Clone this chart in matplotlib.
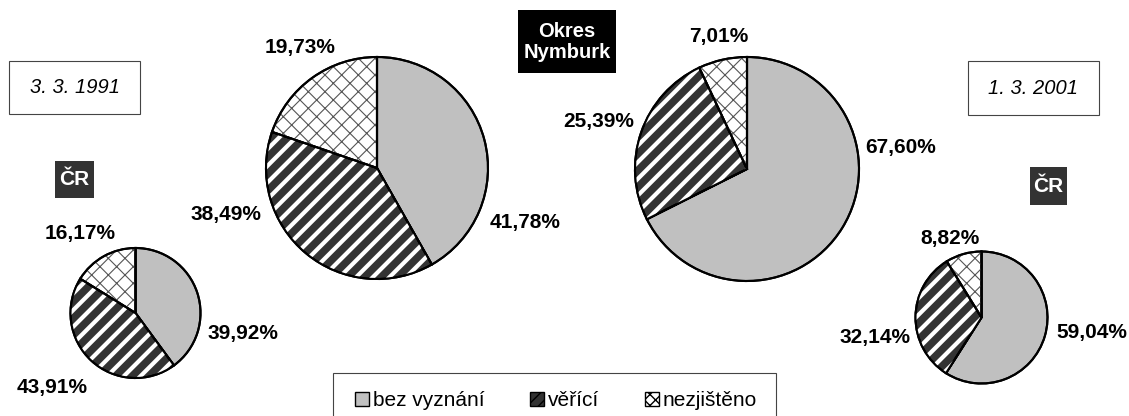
import matplotlib.pyplot as plt
from matplotlib.patches import Patch, Rectangle, Wedge

plt.rcParams["font.family"] = ["Liberation Sans", "DejaVu Sans"]

categories = ["bez vyznání", "věřící", "nezjištěno"]
cr_1991 = [39.92, 43.91, 16.17]
nymburk_1991 = [41.78, 38.49, 19.73]
nymburk_2001 = [67.60, 25.39, 7.01]
cr_2001 = [59.04, 32.14, 8.82]

fills = ["#c0c0c0", "#333333", "white"]
hatches = [None, "//", "xx"]
hatch_colors = [None, "white", "#555555"]
hatch_widths = [0, 3.0, 0.8]

W, H = 1129, 416

# values, centre (px from left, px from top), radius px, label centres in radii
pies = [
    (cr_1991, 135.5, 313, 65, [(1.65, -0.31), (-1.28, -1.14), (-0.85, 1.23)]),
    (nymburk_1991, 377, 168, 111, [(1.33, -0.49), (-1.36, -0.42), (-0.69, 1.09)]),
    (nymburk_2001, 747, 169, 112, [(1.375, 0.196), (-1.32, 0.42), (-0.25, 1.18)]),
    (cr_2001, 981.5, 317.5, 66, [(1.67, -0.23), (-1.61, -0.30), (-0.48, 1.20)]),
]


def pct(v):
    return f"{v:.2f}".replace(".", ",") + "%"


def add_hatch(ax, w, i):
    if hatches[i] is None:
        return
    with plt.rc_context({"hatch.linewidth": hatch_widths[i]}):
        ax.add_patch(Wedge(w.center, w.r, w.theta1, w.theta2, fill=False,
                           hatch=hatches[i], edgecolor=hatch_colors[i], lw=0))


fig = plt.figure(figsize=(W / 100, H / 100), dpi=100)
ax = fig.add_axes([0, 0, 1, 1])

for values, cx, cy, r, offsets in pies:
    centre = (cx, H - cy)
    wedges, _ = ax.pie(values, colors=fills, startangle=90, counterclock=False,
                       center=centre, radius=r,
                       wedgeprops=dict(edgecolor="black", linewidth=1.5))
    for i, w in enumerate(wedges):
        add_hatch(ax, w, i)
        ax.add_patch(Wedge(w.center, w.r, w.theta1, w.theta2, fill=False,
                           edgecolor="black", lw=1.5))
    for v, (dx, dy) in zip(values, offsets):
        ax.text(centre[0] + dx * r, centre[1] + dy * r, pct(v), ha="center",
                va="center", fontsize=15, fontweight="bold")

# date boxes
for x0, y0, x1, y1, txt in [(9, 61, 140, 114, "3. 3. 1991"),
                            (968, 61, 1099, 115, "1. 3. 2001")]:
    ax.add_patch(Rectangle((x0, H - y1), x1 - x0, y1 - y0, fill=False,
                           edgecolor="#444444", lw=0.8))
    ax.text((x0 + x1) / 2, H - (y0 + y1) / 2, txt, ha="center", va="center",
            fontsize=14.5, style="italic")

# ČR tags
for x0, y0, x1, y1 in [(55, 161, 94, 198), (1030, 167, 1067, 205)]:
    ax.add_patch(Rectangle((x0, H - y1), x1 - x0, y1 - y0, color="#333333", lw=0))
    ax.text((x0 + x1) / 2, H - (y0 + y1) / 2, "ČR", ha="center", va="center",
            fontsize=15, fontweight="bold", color="white")

ax.add_patch(Rectangle((518, H - 73), 98, 63, color="black", lw=0))
ax.text(567, H - 42, "Okres\nNymburk", ha="center", va="center",
        fontsize=14.5, fontweight="bold", color="white", linespacing=1.15)

# legend frame runs off the bottom edge
ax.add_patch(Rectangle((333, -10), 443, H - 373 + 10, fill=False,
                       edgecolor="#444444", lw=0.8))

handles = []
for i, name in enumerate(categories):
    handles.append(Patch(facecolor=fills[i], edgecolor="black", lw=1,
                         hatch=hatches[i] and hatches[i][0] * 3, label=name))
leg = fig.legend(handles=handles, ncol=3, loc="center",
                 bbox_to_anchor=(556 / W, 1 - 401 / H), fontsize=15,
                 frameon=False, handlelength=0.65, handleheight=0.65,
                 handletextpad=0.2, columnspacing=2.2, borderpad=0.2)

ax.set_xlim(0, W)
ax.set_ylim(0, H)
ax.set_aspect("equal")
ax.axis("off")

fig.savefig("out.png", dpi=100)
